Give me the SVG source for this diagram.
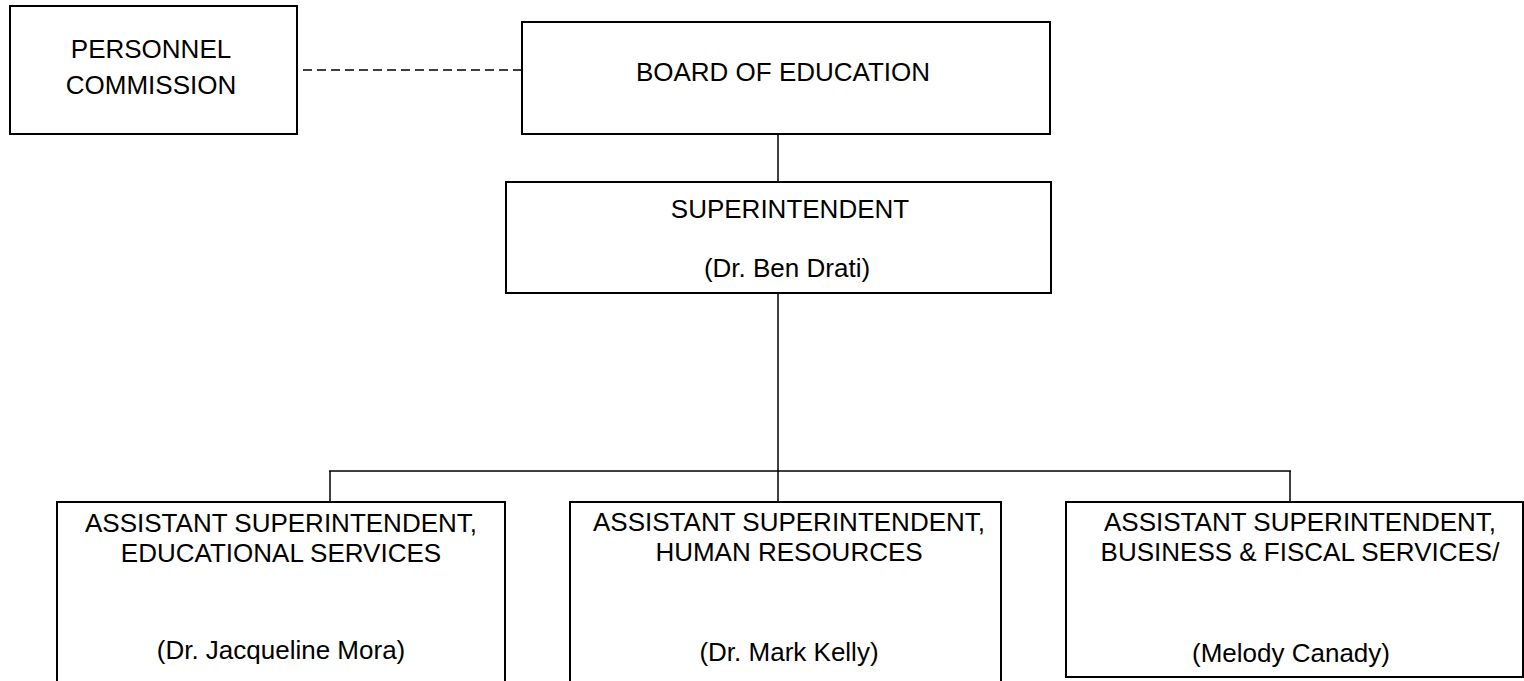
<svg xmlns="http://www.w3.org/2000/svg" width="1524" height="681" viewBox="0 0 1524 681">
<style>
.box{fill:#fff;stroke:#000;stroke-width:2}
.t{font-family:"Liberation Sans",Arial,sans-serif;font-size:26px;fill:#000;text-anchor:middle;dominant-baseline:central}
.c{stroke:#000;stroke-width:1.5;fill:none}
.d{stroke:#000;stroke-width:1.5;fill:none;stroke-dasharray:9 5}
</style>
<rect width="1524" height="681" fill="#fff"/>
<g id="connectors">
<line class="d" x1="303" y1="70" x2="522" y2="70"/>
<line class="c" x1="778" y1="134" x2="778" y2="182"/>
<line class="c" x1="778" y1="293" x2="778" y2="471"/>
<line class="c" x1="329" y1="471" x2="1291" y2="471"/>
<line class="c" x1="330" y1="471" x2="330" y2="502"/>
<line class="c" x1="778" y1="471" x2="778" y2="502"/>
<line class="c" x1="1290" y1="471" x2="1290" y2="502"/>
</g>
<g id="personnel">
<rect class="box" x="10" y="6" width="287" height="128"/>
<text class="t" x="151" y="49">PERSONNEL</text>
<text class="t" x="151" y="85">COMMISSION</text>
</g>
<g id="board">
<rect class="box" x="522" y="22" width="528" height="112"/>
<text class="t" x="783" y="72">BOARD OF EDUCATION</text>
</g>
<g id="superintendent">
<rect class="box" x="506" y="182" width="545" height="111"/>
<text class="t" x="790" y="209">SUPERINTENDENT</text>
<text class="t" x="787" y="268">(Dr. Ben Drati)</text>
</g>
<g id="asst-edu">
<rect class="box" x="57" y="502" width="448" height="200"/>
<text class="t" x="281" y="523">ASSISTANT SUPERINTENDENT,</text>
<text class="t" x="281" y="553">EDUCATIONAL SERVICES</text>
<text class="t" x="281" y="650">(Dr. Jacqueline Mora)</text>
</g>
<g id="asst-hr">
<rect class="box" x="570" y="502" width="431" height="200"/>
<text class="t" x="789" y="522">ASSISTANT SUPERINTENDENT,</text>
<text class="t" x="789" y="552">HUMAN RESOURCES</text>
<text class="t" x="789" y="652">(Dr. Mark Kelly)</text>
</g>
<g id="asst-biz">
<rect class="box" x="1066" y="502" width="457" height="175"/>
<text class="t" x="1300" y="522">ASSISTANT SUPERINTENDENT,</text>
<text class="t" x="1300" y="552">BUSINESS &amp; FISCAL SERVICES/</text>
<text class="t" x="1291" y="653">(Melody Canady)</text>
</g>
</svg>
